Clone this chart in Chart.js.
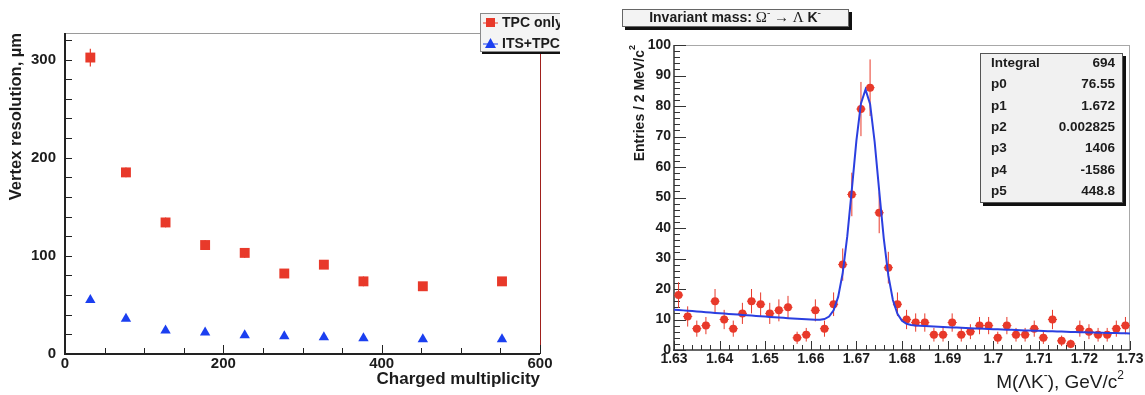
<!DOCTYPE html>
<html>
<head>
<meta charset="utf-8">
<script src="https://cdn.jsdelivr.net/npm/chart.js@4/dist/chart.umd.min.js"></script>
<style>
  html, body { margin: 0; padding: 0; background: #fff; }
  #vertexChart { position: absolute; left: 0; top: 0; }
  #massChart { position: absolute; left: 590px; top: 0; }
</style>
</head>
<body>
<canvas id="vertexChart" width="560" height="395"></canvas>
<canvas id="massChart" width="555" height="395"></canvas>
<script>
// ---- vertex resolution vs multiplicity ----
const multiplicity = [32, 77, 127, 177, 227, 277, 327, 377, 452, 552];
const tpcOnly      = [302, 185, 134, 111, 103, 82, 91, 74, 69, 74];
const tpcOnlyErr   = [9, 5, 5, 5, 5, 4, 4, 5, 3, 3];
const itsTpc       = [55, 36, 24, 22, 19, 18, 17, 16, 15, 15];
const multTicks    = [0, 200, 400, 600];
const resTicks     = [0, 100, 200, 300];

// ---- Omega invariant mass histogram ----
const massBins = [
  1.631, 1.633, 1.635, 1.637, 1.639, 1.641, 1.643, 1.645, 1.647, 1.649,
  1.651, 1.653, 1.655, 1.657, 1.659, 1.661, 1.663, 1.665, 1.667, 1.669,
  1.671, 1.673, 1.675, 1.677, 1.679, 1.681, 1.683, 1.685, 1.687, 1.689,
  1.691, 1.693, 1.695, 1.697, 1.699, 1.701, 1.703, 1.705, 1.707, 1.709,
  1.711, 1.713, 1.715, 1.717, 1.719, 1.721, 1.723, 1.725, 1.727, 1.729
];
const entries = [
  18, 11, 7, 8, 16, 10, 7, 12, 16, 15,
  12, 13, 14, 4, 5, 13, 7, 15, 28, 51,
  79, 86, 45, 27, 15, 10, 9, 9, 5, 5,
  9, 5, 6, 8, 8, 4, 8, 5, 5, 7,
  4, 10, 3, 2, 7, 6, 5, 5, 7, 8
];
const binWidth = 0.002;
const massTicks  = [1.63, 1.64, 1.65, 1.66, 1.67, 1.68, 1.69, 1.7, 1.71, 1.72, 1.73];
const entryTicks = [0, 10, 20, 30, 40, 50, 60, 70, 80, 90, 100];
// gaus(p0,p1,p2) + pol2(p3,p4,p5)
const fitNames = ['p0', 'p1', 'p2', 'p3', 'p4', 'p5'];
const fitPars  = [76.55, 1.672, 0.002825, 1406, -1586, 448.8];

const RED = '#e8392a';
const BLUE = '#1b3ff0';
const FIT_BLUE = '#2b3fe0';
const INK = '#1c1c1c';
const SANS = '"Liberation Sans", Arial, Helvetica, sans-serif';
const SERIF = '"Liberation Serif", "Times New Roman", serif';

function line(ctx, x1, y1, x2, y2) {
  ctx.beginPath();
  ctx.moveTo(x1, y1);
  ctx.lineTo(x2, y2);
  ctx.stroke();
}

// ROOT-style ticks pointing into the frame
function xTicks(ctx, scale, area, from, to, step, major, len, majorLen) {
  for (let v = from; v <= to + step / 2; v += step) {
    const isMajor = Math.abs(v / major - Math.round(v / major)) < 1e-6;
    const px = Math.round(scale.getPixelForValue(v)) + 0.5;
    line(ctx, px, area.bottom, px, area.bottom - (isMajor ? majorLen : len));
  }
}
function yTicks(ctx, scale, area, from, to, step, major, len, majorLen) {
  for (let v = from; v <= to + step / 2; v += step) {
    const isMajor = Math.abs(v / major - Math.round(v / major)) < 1e-6;
    const py = Math.round(scale.getPixelForValue(v)) + 0.5;
    line(ctx, area.left, py, area.left + (isMajor ? majorLen : len), py);
  }
}

// draws text made of runs with their own font and vertical shift
function richText(ctx, parts, x, y, align) {
  let total = 0;
  parts.forEach(p => { ctx.font = p.font; total += ctx.measureText(p.text).width; });
  let cx = align === 'right' ? x - total : align === 'center' ? x - total / 2 : x;
  ctx.textAlign = 'left';
  ctx.textBaseline = 'middle';
  parts.forEach(p => {
    ctx.font = p.font;
    ctx.fillText(p.text, cx, y + (p.dy || 0));
    cx += ctx.measureText(p.text).width;
  });
}

function shadowBox(ctx, x, y, w, h, fill, edge, shadow) {
  ctx.fillStyle = '#111';
  ctx.fillRect(x + shadow, y + shadow, w, h);
  ctx.fillStyle = fill;
  ctx.fillRect(x, y, w, h);
  ctx.strokeStyle = edge;
  ctx.lineWidth = 1;
  ctx.strokeRect(x + 0.5, y + 0.5, w - 1, h - 1);
}

// ---------------- left panel ----------------
const vertexFrame = {
  id: 'vertexFrame',
  beforeDatasetsDraw(chart) {
    const { ctx, chartArea: a, scales } = chart;
    ctx.save();
    ctx.lineWidth = 1;
    ctx.strokeStyle = '#9a9a9a';
    line(ctx, a.left, a.top + 0.5, a.right, a.top + 0.5);
    ctx.strokeStyle = '#a0201c';
    line(ctx, a.right + 0.5, a.top, a.right + 0.5, a.bottom);
    ctx.strokeStyle = '#222';
    ctx.lineWidth = 1;
    xTicks(ctx, scales.x, a, 0, 600, 50, 200, 6, 9);
    yTicks(ctx, scales.y, a, 0, 320, 20, 100, 7, 7);
    ctx.lineWidth = 2;
    line(ctx, a.left, a.top, a.left, a.bottom + 1);
    line(ctx, a.left - 1, a.bottom, a.right, a.bottom);
    // error bars of the TPC-only points
    const xs = scales.x, ys = scales.y;
    ctx.strokeStyle = RED;
    ctx.lineWidth = 1.2;
    multiplicity.forEach((m, i) => {
      const px = xs.getPixelForValue(m);
      line(ctx, px, ys.getPixelForValue(tpcOnly[i] - tpcOnlyErr[i]), px, ys.getPixelForValue(tpcOnly[i] + tpcOnlyErr[i]));
    });
    ctx.restore();
  },
  afterDraw(chart) {
    const { ctx } = chart;
    ctx.save();
    // legend box
    shadowBox(ctx, 480, 13, 90, 39, '#f4f4f4', '#8a8a8a', 2);
    const rows = [
      { label: 'TPC only', color: RED, style: 'rect', y: 23 },
      { label: 'ITS+TPC', color: BLUE, style: 'triangle', y: 44 }
    ];
    rows.forEach(r => {
      ctx.strokeStyle = r.color;
      ctx.lineWidth = 1;
      line(ctx, 483, r.y, 498, r.y);
      ctx.fillStyle = r.color;
      ctx.beginPath();
      if (r.style === 'rect') {
        ctx.rect(486, r.y - 5, 9, 9);
      } else {
        ctx.moveTo(490.5, r.y - 6);
        ctx.lineTo(496, r.y + 4);
        ctx.lineTo(485, r.y + 4);
        ctx.closePath();
      }
      ctx.fill();
      ctx.fillStyle = INK;
      ctx.font = 'bold 14px ' + SANS;
      ctx.textAlign = 'left';
      ctx.textBaseline = 'middle';
      ctx.fillText(r.label, 502, r.y);
    });
    ctx.restore();
  }
};

new Chart(document.getElementById('vertexChart'), {
  type: 'scatter',
  data: {
    datasets: [
      {
        label: 'TPC only',
        data: multiplicity.map((m, i) => ({ x: m, y: tpcOnly[i] })),
        pointStyle: 'rect',
        pointRadius: 7,
        backgroundColor: RED,
        borderColor: RED,
        borderWidth: 0
      },
      {
        label: 'ITS+TPC',
        data: multiplicity.map((m, i) => ({ x: m, y: itsTpc[i] })),
        pointStyle: 'triangle',
        pointRadius: 6,
        backgroundColor: BLUE,
        borderColor: BLUE,
        borderWidth: 0
      }
    ]
  },
  options: {
    responsive: false,
    animation: false,
    events: [],
    layout: { padding: { top: 33, right: 20, left: 0, bottom: 0 }, autoPadding: false },
    plugins: { legend: { display: false }, tooltip: { enabled: false } },
    scales: {
      x: {
        type: 'linear',
        min: 0,
        max: 600,
        afterBuildTicks: s => { s.ticks = multTicks.map(v => ({ value: v })); },
        afterFit: s => { s.height = 41; },
        grid: { display: false, drawTicks: false },
        border: { display: false },
        ticks: { color: INK, font: { family: SANS, size: 15, weight: 'bold' }, padding: 1, maxRotation: 0 },
        title: {
          display: true, text: 'Charged multiplicity', align: 'end', color: INK,
          font: { family: SANS, size: 17, weight: 'bold' }, padding: { top: 0, bottom: 5 }
        }
      },
      y: {
        type: 'linear',
        min: 0,
        max: 327,
        afterBuildTicks: s => { s.ticks = resTicks.map(v => ({ value: v })); },
        afterFit: s => { s.width = 65; },
        grid: { display: false, drawTicks: false },
        border: { display: false },
        ticks: { color: INK, font: { family: SANS, size: 15, weight: 'bold' }, padding: 9 },
        title: {
          display: true, text: 'Vertex resolution, µm', align: 'end', color: INK,
          font: { family: SANS, size: 16.5, weight: 'bold' }, padding: { top: 7, bottom: 0 }
        }
      }
    }
  },
  plugins: [vertexFrame]
});

// ---------------- right panel ----------------
function fitFunc(m) {
  const [p0, p1, p2, p3, p4, p5] = fitPars;
  const t = (m - p1) / p2;
  return p0 * Math.exp(-0.5 * t * t) + p3 + p4 * m + p5 * m * m;
}
const fitCurve = [];
for (let i = 0; i <= 100; i++) {
  const m = 1.63 + i * 0.001;
  fitCurve.push({ x: m, y: fitFunc(m) });
}
const integral = entries.reduce((s, n) => s + n, 0);

const massDecor = {
  id: 'massDecor',
  beforeDatasetsDraw(chart) {
    const { ctx, chartArea: a, scales } = chart;
    const xs = scales.x, ys = scales.y;
    ctx.save();
    ctx.lineWidth = 1;
    ctx.strokeStyle = '#a8a8a8';
    line(ctx, a.left, a.top + 0.5, a.right, a.top + 0.5);
    line(ctx, a.right - 0.5, a.top, a.right - 0.5, a.bottom);
    ctx.strokeStyle = '#333';
    xTicks(ctx, xs, a, 1.63, 1.73, 0.002, 0.01, 5, 9);
    yTicks(ctx, ys, a, 0, 100, 2, 10, 6, 12);
    ctx.lineWidth = 1.5;
    line(ctx, a.left, a.top, a.left, a.bottom + 1);
    line(ctx, a.left - 1, a.bottom, a.right, a.bottom);
    // Poisson errors and bin half-widths
    ctx.strokeStyle = RED;
    ctx.lineWidth = 1;
    massBins.forEach((m, i) => {
      const n = entries[i];
      const err = Math.sqrt(n);
      const px = xs.getPixelForValue(m);
      const py = ys.getPixelForValue(n);
      line(ctx, px, ys.getPixelForValue(n - err), px, ys.getPixelForValue(n + err));
      line(ctx, xs.getPixelForValue(m - binWidth / 2), py, xs.getPixelForValue(m + binWidth / 2), py);
    });
    ctx.restore();
  },
  afterDraw(chart) {
    const { ctx, chartArea: a } = chart;
    ctx.save();
    ctx.fillStyle = INK;

    // histogram title
    shadowBox(ctx, 32, 9, 227, 18, '#f3f3f3', '#666', 3);
    ctx.fillStyle = INK;
    const bold = 'bold 14px ' + SANS;
    const serif = '15px ' + SERIF;
    const sup = '10px ' + SERIF;
    richText(ctx, [
      { text: 'Invariant mass: ', font: bold },
      { text: 'Ω', font: serif },
      { text: '-', font: sup, dy: -5 },
      { text: ' → Λ ', font: serif },
      { text: 'K', font: bold },
      { text: '-', font: sup, dy: -5 }
    ], 145, 18, 'center');

    // fit statistics box
    shadowBox(ctx, 390, 53, 143, 150, '#f1f1f1', '#555', 3);
    const names = ['Integral'].concat(fitNames);
    const values = [String(integral)].concat(fitPars.map(String));
    ctx.font = 'bold 13.5px ' + SANS;
    ctx.fillStyle = INK;
    ctx.textBaseline = 'middle';
    names.forEach((nm, i) => {
      const y = 63 + i * 21.4;
      ctx.textAlign = 'left';
      ctx.fillText(nm, 401, y);
      ctx.textAlign = 'right';
      ctx.fillText(values[i], 525, y);
    });

    // axis titles
    richText(ctx, [
      { text: 'M(ΛK', font: '19px ' + SANS },
      { text: '-', font: '12px ' + SANS, dy: -7 },
      { text: '), GeV/c', font: '19px ' + SANS },
      { text: '2', font: '12px ' + SANS, dy: -7 }
    ], 534, 383, 'right');

    ctx.translate(50, a.top);
    ctx.rotate(-Math.PI / 2);
    richText(ctx, [
      { text: 'Entries / 2 MeV/c', font: 'bold 14px ' + SANS },
      { text: '2', font: 'bold 9px ' + SANS, dy: -7 }
    ], 0, 0, 'right');
    ctx.restore();
  }
};

new Chart(document.getElementById('massChart'), {
  type: 'scatter',
  data: {
    datasets: [
      {
        label: 'fit',
        data: fitCurve,
        showLine: true,
        pointRadius: 0,
        borderColor: FIT_BLUE,
        borderWidth: 2,
        tension: 0,
        fill: false
      },
      {
        label: 'entries',
        data: massBins.map((m, i) => ({ x: m, y: entries[i] })),
        pointStyle: 'circle',
        pointRadius: 4,
        backgroundColor: RED,
        borderColor: RED,
        borderWidth: 0
      }
    ]
  },
  options: {
    responsive: false,
    animation: false,
    events: [],
    layout: { padding: { top: 45, right: 15, left: 0, bottom: 0 }, autoPadding: false },
    plugins: { legend: { display: false }, tooltip: { enabled: false } },
    scales: {
      x: {
        type: 'linear',
        min: 1.63,
        max: 1.73,
        afterBuildTicks: s => { s.ticks = massTicks.map(v => ({ value: v })); },
        afterFit: s => { s.height = 45; },
        grid: { display: false, drawTicks: false },
        border: { display: false },
        ticks: {
          color: INK, font: { family: SANS, size: 14, weight: 'bold' }, padding: 1, maxRotation: 0,
          callback: v => String(v)
        }
      },
      y: {
        type: 'linear',
        min: 0,
        max: 100,
        afterBuildTicks: s => { s.ticks = entryTicks.map(v => ({ value: v })); },
        afterFit: s => { s.width = 84; },
        grid: { display: false, drawTicks: false },
        border: { display: false },
        ticks: { color: INK, font: { family: SANS, size: 14, weight: 'bold' }, padding: 3 }
      }
    }
  },
  plugins: [massDecor]
});
</script>
</body>
</html>
